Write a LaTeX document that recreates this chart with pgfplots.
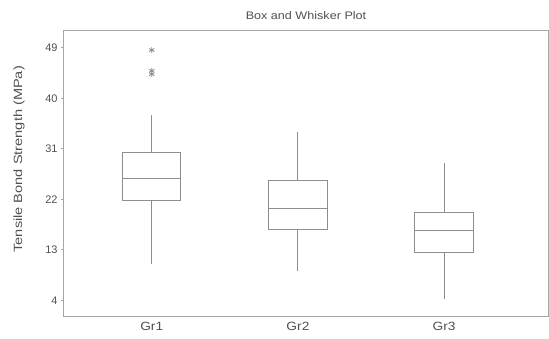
\documentclass[border=0pt]{standalone}
\usepackage{pgfplots}
\pgfplotsset{compat=1.18}
\usepgfplotslibrary{statistics}
\usepackage{graphicx}
\usepackage{fontspec}
\setmainfont{Liberation Sans}
\definecolor{boxc}{HTML}{8E8E8E}
\definecolor{axc}{HTML}{A6A6A6}
\definecolor{txt}{HTML}{505050}
\begin{document}
\begin{tikzpicture}
\begin{axis}[
  scale only axis, width=484bp, height=285bp,
  xmin=0.4, xmax=3.71, ymin=1.2, ymax=52,
  xtick={1,2,3},
  xticklabels={\scalebox{1.15}[1]{Gr1},\scalebox{1.15}[1]{Gr2},\scalebox{1.15}[1]{Gr3}},
  ytick={4,13,22,31,40,49},
  axis line style={axc, line width=1bp},
  ytick style={axc, line width=0.8bp},
  xtick style={draw=none},
  major tick length=3bp,
  tick align=outside,
  ytick pos=left, xtick pos=bottom,
  /pgf/number format/assume math mode=true,
  tick label style={color=txt, font=\fontsize{11}{13}\selectfont},
  xticklabel style={font=\fontsize{12}{14}\selectfont},
  title={\scalebox{1.15}[1]{Box and Whisker Plot}},
  title style={color=txt, font=\fontsize{11}{13}\selectfont, yshift=2bp},
  ylabel={\scalebox{1.22}[1]{Tensile Bond Strength (MPa)}},
  ylabel style={color=txt, font=\fontsize{12}{14}\selectfont,
    at={(axis description cs:-0.093,0.55)}, anchor=center},
  boxplot/draw direction=y,
  clip=false,
]
\addplot[boxc, line width=1bp, mark=asterisk, mark size=3bp, mark options={boxc, line width=0.9bp},
  boxplot prepared={draw position=1, lower whisker=10.4, lower quartile=21.8,
    median=25.75, upper quartile=30.4, upper whisker=37.1, box extend=0.4, whisker extend=0}]
  table[row sep=\\, y index=0]{data\\48.6\\44.9\\44.3\\};
\addplot[boxc, line width=1bp,
  boxplot prepared={draw position=2, lower whisker=9.2, lower quartile=16.6,
    median=20.4, upper quartile=25.3, upper whisker=34.0, box extend=0.4, whisker extend=0}]
  coordinates {};
\addplot[boxc, line width=1bp,
  boxplot prepared={draw position=3, lower whisker=4.3, lower quartile=12.6,
    median=16.4, upper quartile=19.7, upper whisker=28.5, box extend=0.4, whisker extend=0}]
  coordinates {};
\coordinate (O) at (rel axis cs:0,0);
\end{axis}
\path (O) ++(-64bp,-23bp) rectangle ++(549bp,339bp);
\end{tikzpicture}
\end{document}
